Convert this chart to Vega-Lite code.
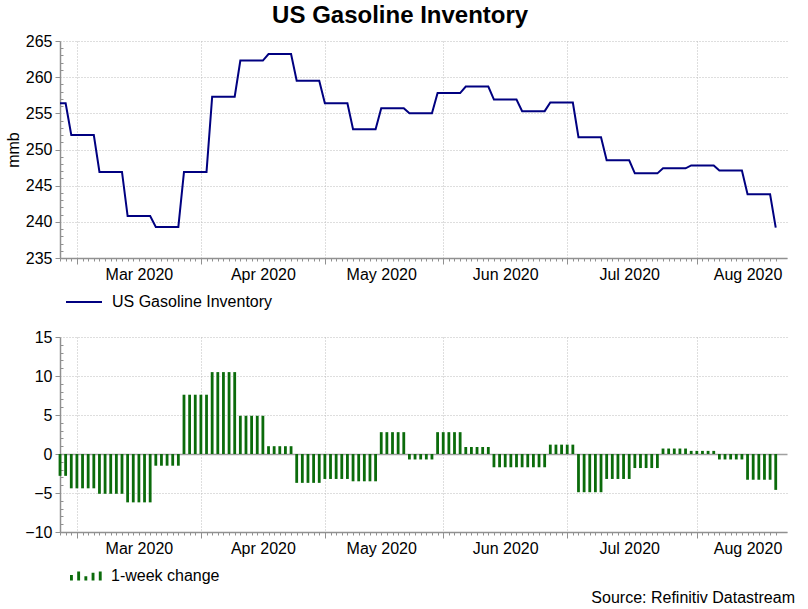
{
  "$schema": "https://vega.github.io/schema/vega-lite/v6.json",
  "padding": {"left": 5, "top": 4, "right": 5, "bottom": 2},
  "title": {"text": "US Gasoline Inventory", "fontSize": 24, "fontWeight": "bold", "anchor": "middle", "frame": "bounds", "offset": 5, "color": "black"},
  "datasets": {
    "gas": [
      {"date": "2020-02-26", "inventory": 256.4, "change": -2.8},
      {"date": "2020-02-27", "inventory": 256.4, "change": -2.8},
      {"date": "2020-02-28", "inventory": 252.0, "change": -4.4},
      {"date": "2020-03-02", "inventory": 252.0, "change": -4.4},
      {"date": "2020-03-03", "inventory": 252.0, "change": -4.4},
      {"date": "2020-03-04", "inventory": 252.0, "change": -4.4},
      {"date": "2020-03-05", "inventory": 252.0, "change": -4.4},
      {"date": "2020-03-06", "inventory": 246.9, "change": -5.1},
      {"date": "2020-03-09", "inventory": 246.9, "change": -5.1},
      {"date": "2020-03-10", "inventory": 246.9, "change": -5.1},
      {"date": "2020-03-11", "inventory": 246.9, "change": -5.1},
      {"date": "2020-03-12", "inventory": 246.9, "change": -5.1},
      {"date": "2020-03-13", "inventory": 240.8, "change": -6.2},
      {"date": "2020-03-16", "inventory": 240.8, "change": -6.2},
      {"date": "2020-03-17", "inventory": 240.8, "change": -6.2},
      {"date": "2020-03-18", "inventory": 240.8, "change": -6.2},
      {"date": "2020-03-19", "inventory": 240.8, "change": -6.2},
      {"date": "2020-03-20", "inventory": 239.3, "change": -1.5},
      {"date": "2020-03-23", "inventory": 239.3, "change": -1.5},
      {"date": "2020-03-24", "inventory": 239.3, "change": -1.5},
      {"date": "2020-03-25", "inventory": 239.3, "change": -1.5},
      {"date": "2020-03-26", "inventory": 239.3, "change": -1.5},
      {"date": "2020-03-27", "inventory": 246.9, "change": 7.6},
      {"date": "2020-03-30", "inventory": 246.9, "change": 7.6},
      {"date": "2020-03-31", "inventory": 246.9, "change": 7.6},
      {"date": "2020-04-01", "inventory": 246.9, "change": 7.6},
      {"date": "2020-04-02", "inventory": 246.9, "change": 7.6},
      {"date": "2020-04-03", "inventory": 257.3, "change": 10.5},
      {"date": "2020-04-06", "inventory": 257.3, "change": 10.5},
      {"date": "2020-04-07", "inventory": 257.3, "change": 10.5},
      {"date": "2020-04-08", "inventory": 257.3, "change": 10.5},
      {"date": "2020-04-09", "inventory": 257.3, "change": 10.5},
      {"date": "2020-04-10", "inventory": 262.3, "change": 4.9},
      {"date": "2020-04-13", "inventory": 262.3, "change": 4.9},
      {"date": "2020-04-14", "inventory": 262.3, "change": 4.9},
      {"date": "2020-04-15", "inventory": 262.3, "change": 4.9},
      {"date": "2020-04-16", "inventory": 262.3, "change": 4.9},
      {"date": "2020-04-17", "inventory": 263.2, "change": 1.0},
      {"date": "2020-04-20", "inventory": 263.2, "change": 1.0},
      {"date": "2020-04-21", "inventory": 263.2, "change": 1.0},
      {"date": "2020-04-22", "inventory": 263.2, "change": 1.0},
      {"date": "2020-04-23", "inventory": 263.2, "change": 1.0},
      {"date": "2020-04-24", "inventory": 259.5, "change": -3.7},
      {"date": "2020-04-27", "inventory": 259.5, "change": -3.7},
      {"date": "2020-04-28", "inventory": 259.5, "change": -3.7},
      {"date": "2020-04-29", "inventory": 259.5, "change": -3.7},
      {"date": "2020-04-30", "inventory": 259.5, "change": -3.7},
      {"date": "2020-05-01", "inventory": 256.4, "change": -3.2},
      {"date": "2020-05-04", "inventory": 256.4, "change": -3.2},
      {"date": "2020-05-05", "inventory": 256.4, "change": -3.2},
      {"date": "2020-05-06", "inventory": 256.4, "change": -3.2},
      {"date": "2020-05-07", "inventory": 256.4, "change": -3.2},
      {"date": "2020-05-08", "inventory": 252.8, "change": -3.5},
      {"date": "2020-05-11", "inventory": 252.8, "change": -3.5},
      {"date": "2020-05-12", "inventory": 252.8, "change": -3.5},
      {"date": "2020-05-13", "inventory": 252.8, "change": -3.5},
      {"date": "2020-05-14", "inventory": 252.8, "change": -3.5},
      {"date": "2020-05-15", "inventory": 255.7, "change": 2.8},
      {"date": "2020-05-18", "inventory": 255.7, "change": 2.8},
      {"date": "2020-05-19", "inventory": 255.7, "change": 2.8},
      {"date": "2020-05-20", "inventory": 255.7, "change": 2.8},
      {"date": "2020-05-21", "inventory": 255.7, "change": 2.8},
      {"date": "2020-05-22", "inventory": 255.0, "change": -0.7},
      {"date": "2020-05-25", "inventory": 255.0, "change": -0.7},
      {"date": "2020-05-26", "inventory": 255.0, "change": -0.7},
      {"date": "2020-05-27", "inventory": 255.0, "change": -0.7},
      {"date": "2020-05-28", "inventory": 255.0, "change": -0.7},
      {"date": "2020-05-29", "inventory": 257.8, "change": 2.8},
      {"date": "2020-06-01", "inventory": 257.8, "change": 2.8},
      {"date": "2020-06-02", "inventory": 257.8, "change": 2.8},
      {"date": "2020-06-03", "inventory": 257.8, "change": 2.8},
      {"date": "2020-06-04", "inventory": 257.8, "change": 2.8},
      {"date": "2020-06-05", "inventory": 258.7, "change": 0.9},
      {"date": "2020-06-08", "inventory": 258.7, "change": 0.9},
      {"date": "2020-06-09", "inventory": 258.7, "change": 0.9},
      {"date": "2020-06-10", "inventory": 258.7, "change": 0.9},
      {"date": "2020-06-11", "inventory": 258.7, "change": 0.9},
      {"date": "2020-06-12", "inventory": 256.9, "change": -1.7},
      {"date": "2020-06-15", "inventory": 256.9, "change": -1.7},
      {"date": "2020-06-16", "inventory": 256.9, "change": -1.7},
      {"date": "2020-06-17", "inventory": 256.9, "change": -1.7},
      {"date": "2020-06-18", "inventory": 256.9, "change": -1.7},
      {"date": "2020-06-19", "inventory": 255.3, "change": -1.7},
      {"date": "2020-06-22", "inventory": 255.3, "change": -1.7},
      {"date": "2020-06-23", "inventory": 255.3, "change": -1.7},
      {"date": "2020-06-24", "inventory": 255.3, "change": -1.7},
      {"date": "2020-06-25", "inventory": 255.3, "change": -1.7},
      {"date": "2020-06-26", "inventory": 256.5, "change": 1.2},
      {"date": "2020-06-29", "inventory": 256.5, "change": 1.2},
      {"date": "2020-06-30", "inventory": 256.5, "change": 1.2},
      {"date": "2020-07-01", "inventory": 256.5, "change": 1.2},
      {"date": "2020-07-02", "inventory": 256.5, "change": 1.2},
      {"date": "2020-07-03", "inventory": 251.7, "change": -4.9},
      {"date": "2020-07-06", "inventory": 251.7, "change": -4.9},
      {"date": "2020-07-07", "inventory": 251.7, "change": -4.9},
      {"date": "2020-07-08", "inventory": 251.7, "change": -4.9},
      {"date": "2020-07-09", "inventory": 251.7, "change": -4.9},
      {"date": "2020-07-10", "inventory": 248.5, "change": -3.2},
      {"date": "2020-07-13", "inventory": 248.5, "change": -3.2},
      {"date": "2020-07-14", "inventory": 248.5, "change": -3.2},
      {"date": "2020-07-15", "inventory": 248.5, "change": -3.2},
      {"date": "2020-07-16", "inventory": 248.5, "change": -3.2},
      {"date": "2020-07-17", "inventory": 246.7, "change": -1.8},
      {"date": "2020-07-20", "inventory": 246.7, "change": -1.8},
      {"date": "2020-07-21", "inventory": 246.7, "change": -1.8},
      {"date": "2020-07-22", "inventory": 246.7, "change": -1.8},
      {"date": "2020-07-23", "inventory": 246.7, "change": -1.8},
      {"date": "2020-07-24", "inventory": 247.4, "change": 0.7},
      {"date": "2020-07-27", "inventory": 247.4, "change": 0.7},
      {"date": "2020-07-28", "inventory": 247.4, "change": 0.7},
      {"date": "2020-07-29", "inventory": 247.4, "change": 0.7},
      {"date": "2020-07-30", "inventory": 247.4, "change": 0.7},
      {"date": "2020-07-31", "inventory": 247.8, "change": 0.4},
      {"date": "2020-08-03", "inventory": 247.8, "change": 0.4},
      {"date": "2020-08-04", "inventory": 247.8, "change": 0.4},
      {"date": "2020-08-05", "inventory": 247.8, "change": 0.4},
      {"date": "2020-08-06", "inventory": 247.8, "change": 0.4},
      {"date": "2020-08-07", "inventory": 247.1, "change": -0.7},
      {"date": "2020-08-10", "inventory": 247.1, "change": -0.7},
      {"date": "2020-08-11", "inventory": 247.1, "change": -0.7},
      {"date": "2020-08-12", "inventory": 247.1, "change": -0.7},
      {"date": "2020-08-13", "inventory": 247.1, "change": -0.7},
      {"date": "2020-08-14", "inventory": 243.8, "change": -3.3},
      {"date": "2020-08-17", "inventory": 243.8, "change": -3.3},
      {"date": "2020-08-18", "inventory": 243.8, "change": -3.3},
      {"date": "2020-08-19", "inventory": 243.8, "change": -3.3},
      {"date": "2020-08-20", "inventory": 243.8, "change": -3.3},
      {"date": "2020-08-21", "inventory": 239.2, "change": -4.6}
    ]
  },
  "vconcat": [
    {
      "width": 727,
      "height": 217,
      "data": {"name": "gas"},
      "mark": {"type": "line", "strokeWidth": 2},
      "encoding": {
        "x": {
          "field": "date", "type": "ordinal", "sort": "ascending",
          "scale": {"type": "point", "padding": 1.4, "align": 0, "round": false},
          "axis": {
            "title": null,
            "labelExpr": "indexof(['2020-03-17','2020-04-16','2020-05-15','2020-06-16','2020-07-16','2020-08-14'], datum.value) >= 0 ? timeFormat(toDate(datum.value + 'T12:00:00'), '%b %Y') : ''",
            "labelAngle": 0, "labelOverlap": false, "labelFontSize": 16, "labelColor": "black", "labelPadding": 5,
            "grid": true,
            "gridOpacity": {"condition": {"test": "indexof(['2020-03-02','2020-04-01','2020-05-01','2020-06-01','2020-07-01','2020-08-03'], datum.value) >= 0", "value": 1}, "value": 0},
            "gridDash": [1, 2], "gridColor": "#bdbdbd",
            "tickSize": {"condition": {"test": "indexof(['2020-03-02','2020-04-01','2020-05-01','2020-06-01','2020-07-01','2020-08-03'], datum.value) >= 0", "value": 6}, "value": 3},
            "tickColor": "#909090", "domainColor": "#909090", "domainWidth": 1.5
          }
        },
        "y": {
          "field": "inventory", "type": "quantitative",
          "scale": {"domain": [235, 265], "nice": false, "zero": false},
          "axis": {
            "title": "mmb", "titleFontSize": 16, "titleFontWeight": "normal", "titleColor": "black", "titlePadding": 4,
            "values": [235,236,237,238,239,240,241,242,243,244,245,246,247,248,249,250,251,252,253,254,255,256,257,258,259,260,261,262,263,264,265],
            "labelExpr": "datum.value % 5 == 0 ? format(datum.value, 'd') : ''",
            "labelFontSize": 16, "labelColor": "black", "labelOverlap": false, "labelPadding": 3,
            "grid": true,
            "gridOpacity": {"condition": {"test": "datum.value % 5 == 0", "value": 1}, "value": 0},
            "gridDash": [1, 2], "gridColor": "#bdbdbd",
            "tickSize": {"condition": {"test": "datum.value % 5 == 0", "value": 5}, "value": -3},
            "tickColor": "#909090", "domainColor": "#909090", "domainWidth": 1.5
          }
        },
        "color": {
          "datum": "US Gasoline Inventory",
          "scale": {"range": ["#000080"]},
          "legend": {
            "orient": "bottom", "direction": "horizontal", "title": null, "labelLimit": 400, "padding": 5, "labelOffset": 9,
            "labelFontSize": 16, "labelColor": "black", "symbolType": "stroke", "symbolSize": 1296, "symbolStrokeWidth": 2, "offset": -7
          }
        }
      }
    },
    {
      "width": 727,
      "height": 195,
      "data": {"name": "gas"},
      "title": {"text": "Source: Refinitiv Datastream", "orient": "bottom", "anchor": "end", "frame": "bounds", "fontSize": 16, "fontWeight": "normal", "color": "black", "offset": -4, "dx": 8},
      "mark": {"type": "bar", "width": 2.8},
      "encoding": {
        "x": {
          "field": "date", "type": "ordinal", "sort": "ascending",
          "scale": {"type": "point", "padding": 1.4, "align": 0, "round": false},
          "axis": {
            "title": null,
            "labelExpr": "indexof(['2020-03-17','2020-04-16','2020-05-15','2020-06-16','2020-07-16','2020-08-14'], datum.value) >= 0 ? timeFormat(toDate(datum.value + 'T12:00:00'), '%b %Y') : ''",
            "labelAngle": 0, "labelOverlap": false, "labelFontSize": 16, "labelColor": "black", "labelPadding": 5,
            "grid": true,
            "gridOpacity": {"condition": {"test": "indexof(['2020-03-02','2020-04-01','2020-05-01','2020-06-01','2020-07-01','2020-08-03'], datum.value) >= 0", "value": 1}, "value": 0},
            "gridDash": [1, 2], "gridColor": "#bdbdbd",
            "tickSize": {"condition": {"test": "indexof(['2020-03-02','2020-04-01','2020-05-01','2020-06-01','2020-07-01','2020-08-03'], datum.value) >= 0", "value": 6}, "value": 3},
            "tickColor": "#909090", "domainColor": "#909090", "domainWidth": 1.5
          }
        },
        "y": {
          "field": "change", "type": "quantitative",
          "scale": {"domain": [-10, 15], "nice": false},
          "axis": {
            "title": null,
            "values": [-10,-9,-8,-7,-6,-5,-4,-3,-2,-1,0,1,2,3,4,5,6,7,8,9,10,11,12,13,14,15],
            "labelExpr": "abs(datum.value) % 5 == 0 ? format(datum.value, 'd') : ''",
            "labelFontSize": 16, "labelColor": "black", "labelOverlap": false, "labelPadding": 3,
            "grid": true,
            "gridOpacity": {"condition": {"test": "abs(datum.value) % 5 == 0", "value": 1}, "value": 0},
            "gridDash": {"condition": {"test": "datum.value == 0", "value": []}, "value": [1, 2]},
            "gridColor": {"condition": {"test": "datum.value == 0", "value": "#a0a0a0"}, "value": "#bdbdbd"},
            "gridWidth": {"condition": {"test": "datum.value == 0", "value": 1.5}, "value": 1},
            "tickSize": {"condition": {"test": "abs(datum.value) % 5 == 0", "value": 5}, "value": -3},
            "tickColor": "#909090", "domainColor": "#909090", "domainWidth": 1.5
          }
        },
        "color": {
          "datum": "1-week change",
          "scale": {"range": ["#0b6b0b"]},
          "legend": {
            "orient": "bottom", "direction": "horizontal", "title": null, "labelLimit": 400, "padding": 10, "labelOffset": 9,
            "labelFontSize": 16, "labelColor": "black", "symbolSize": 1024, "symbolStrokeWidth": 0, "offset": -9,
            "symbolType": "M-1,0.28V-0.06H-0.82V0.28Z M-0.55,0.28V-0.28H-0.37V0.28Z M-0.1,0.28V0.02H0.08V0.28Z M0.35,0.28V-0.2H0.53V0.28Z M0.8,0.28V-0.28H0.98V0.28Z"
          }
        }
      }
    }
  ],
  "resolve": {"scale": {"color": "independent", "x": "independent", "y": "independent"}},
  "config": {
    "font": "Liberation Sans",
    "view": {"stroke": null},
    "concat": {"spacing": 14},
    "axis": {"labelFont": "Liberation Sans", "titleFont": "Liberation Sans"},
    "legend": {"labelFont": "Liberation Sans"}
  }
}
